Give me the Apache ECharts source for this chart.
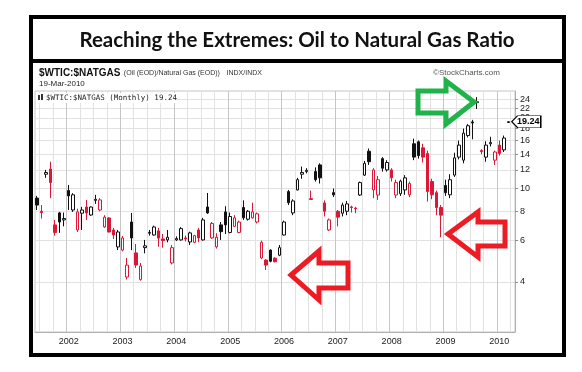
<!DOCTYPE html>
<html><head><meta charset="utf-8">
<script src="https://cdn.jsdelivr.net/npm/echarts@6/dist/echarts.min.js"></script>
<style>html,body{margin:0;padding:0;background:#fff}#c{width:582px;height:372px}</style>
</head><body><div id="c"></div>
<script>
// ---- data (monthly candles, Jun 2001 .. Mar 2010; category axis runs to Apr 2010) ----
const startYear = 2001;
const startMonth = 6;
const monthCount = 107;
const opens = [9.1,8.0,11.5,12.1,7.0,7.87,7.35,9.8,8.1,6.66,7.85,8.34,7.71,8.9,8.1,6.86,7.49,6.66,5.64,5.47,
  4.2,7.2,5.32,4.1,5.6,6.45,6.34,6.6,6.1,6.04,4.82,6.04,6.04,6.16,5.92,5.9,6.66,6.04,8.34,6.16,
  5.64,7.0,7.95,6.5,6.9,6.5,8.3,7.4,7.5,7.2,5.06,4.96,5.47,5.05,5.2,6.34,9.7,7.87,9.86,11.5,
  11.8,9.05,11.8,12.6,8.68,6.66,9.6,8.0,7.85,8.0,8.35,8.25,9.38,11.4,14.4,9.86,9.38,13.4,12.0,12.0,
  9.38,9.5,9.86,9.4,15.5,15.8,14.9,14.1,10.7,9.6,8.3,10.3,9.4,11.4,13.6,13.2,16.8,19.2,23.2,14.5,
  13.6,15.5,13.2,15.3,14.6,19.1];
const highs = [9.3,8.5,12.0,13.0,7.35,7.95,7.9,10.35,9.55,8.2,8.35,8.94,8.4,9.4,9.1,7.7,7.55,6.8,6.66,6.28,
  5.06,7.87,5.8,4.82,6.04,6.66,6.95,6.8,6.4,6.66,5.75,6.25,6.85,6.3,6.55,6.35,6.8,7.5,9.57,7.2,
  6.45,7.2,8.4,7.9,7.7,7.3,8.9,8.1,8.7,7.9,6.0,5.0,5.5,5.1,5.75,7.3,9.86,9.0,11.1,12.4,
  12.2,9.8,12.3,12.8,8.9,7.45,10.0,8.1,8.7,8.85,8.45,8.35,10.7,13.1,14.8,12.2,11.3,13.6,13.2,12.2,
  10.9,10.9,11.4,10.7,16.3,16.0,15.5,14.5,11.0,9.8,8.5,10.9,11.5,14.2,16.0,18.0,18.8,19.6,24.5,14.7,
  15.9,16.6,14.5,16.0,16.8,19.35];
const lows = [8.1,7.45,11.1,9.1,6.3,6.47,6.9,8.1,7.95,6.53,6.66,7.35,7.65,8.6,8.0,6.8,6.5,6.1,5.47,5.4,
  4.1,5.47,4.59,4.05,5.3,6.3,6.3,5.65,5.6,5.9,4.75,5.98,6.0,5.95,5.75,5.85,5.9,6.0,7.8,6.1,
  5.55,6.04,6.4,6.45,6.85,6.45,7.35,7.3,7.45,7.1,5.0,4.5,4.85,4.85,5.15,6.3,8.5,7.7,9.8,11.0,
  11.6,8.95,10.7,10.5,7.6,6.6,9.2,6.9,7.6,7.7,7.9,7.85,9.3,11.3,12.6,9.1,8.94,11.8,11.8,10.7,
  9.1,9.3,9.4,9.2,13.2,13.4,12.9,8.8,9.0,7.7,6.2,9.3,9.1,11.2,13.3,12.8,16.5,16.2,21.8,14.0,
  13.0,15.1,12.6,13.8,14.3,19.0];
const closes = [8.5,7.9,11.7,10.6,6.5,7.2,7.45,9.3,9.4,7.95,8.1,7.87,8.34,9.0,8.94,7.55,6.53,6.34,6.53,6.16,
  4.72,6.16,4.72,4.68,5.7,6.5,6.86,6.15,6.0,6.2,5.6,6.12,6.75,6.1,6.47,6.3,6.16,7.35,7.87,7.1,
  6.2,6.55,7.0,7.6,7.5,7.2,7.5,8.0,7.95,7.8,5.9,4.72,4.9,4.88,5.6,7.2,8.7,8.85,10.9,11.7,
  11.95,8.98,10.9,11.1,8.0,7.35,9.4,7.55,8.5,8.6,8.3,8.2,10.6,12.8,13.0,12.0,10.9,12.2,12.9,11.1,
  10.6,10.75,11.1,10.5,13.6,13.8,13.6,9.7,9.4,8.3,7.7,9.6,10.9,13.5,15.3,17.2,18.5,19.0,23.4,14.35,
  15.3,15.7,14.3,14.1,16.4,19.24];
const yTickValues = [4,6,8,10,12,14,16,18,20,22,24];
const lastValue = 19.24;

// ---- build ----
const categories = [];
for (let i = 0; i < monthCount; i++) {
  const k = startMonth - 1 + i;
  categories.push((startYear + Math.floor(k / 12)) + '-' + String(k % 12 + 1).padStart(2, '0'));
}
const RED = '#dc1838', BLACK = '#111';
const candles = opens.map((o, i) => {
  const c = closes[i];
  const up = i === 0 || c >= closes[i - 1];
  const col = up ? BLACK : RED;
  const hollow = c >= o;
  return {
    value: [o, c, lows[i], highs[i]],
    itemStyle: { color: hollow ? '#fff' : col, color0: hollow ? '#fff' : col, borderColor: col, borderColor0: col, borderWidth: 1 }
  };
});
const lastIdx = closes.length - 1;

const chart = echarts.init(document.getElementById('c'), null, { renderer: 'canvas' });
chart.setOption({
  animation: false,
  backgroundColor: '#fff',
  grid: { left: 35, right: 67, top: 91, bottom: 40, show: true, borderColor: '#c4c4c4', borderWidth: 1 },
  xAxis: [{
    type: 'category', data: categories, boundaryGap: true,
    axisLine: { show: true, lineStyle: { color: '#b0b0b0' } },
    axisTick: { show: false },
    axisLabel: { interval: (i, v) => v.slice(5) === '01', formatter: v => v.slice(0, 4), fontSize: 9, color: '#222', margin: 5, fontFamily: 'Liberation Sans' },
    splitLine: { show: true, interval: (i, v) => ['04', '07', '10'].indexOf(v.slice(5)) >= 0, lineStyle: { color: '#e2e2e2', width: 1 } }
  }, {
    type: 'category', data: categories, boundaryGap: true, position: 'bottom',
    axisLine: { show: false }, axisTick: { show: false }, axisLabel: { show: false },
    splitLine: { show: true, interval: (i, v) => v.slice(5) === '01', lineStyle: { color: '#c6c6c6', width: 1 } }
  }],
  yAxis: {
    type: 'log', logBase: 10, position: 'right', min: 2.45, max: 26,
    axisLine: { show: true, lineStyle: { color: '#b0b0b0' } },
    axisTick: { show: true, length: 3, customValues: yTickValues, lineStyle: { color: '#888' } },
    axisLabel: { customValues: yTickValues, fontSize: 9, color: '#222', margin: 5, fontFamily: 'Liberation Sans' },
    splitLine: { show: true, lineStyle: { color: '#e2e2e2' } }
  },
  series: [{
    type: 'candlestick', xAxisIndex: 0, yAxisIndex: 0, barWidth: 3, data: candles,
    markPoint: {
      symbol: 'path://M0,6L6,0L30,0L30,12L6,12Z', symbolSize: [29, 12], symbolOffset: [18, 0], silent: true,
      itemStyle: { color: '#fff', borderColor: '#000', borderWidth: 1 },
      label: { show: true, position: 'inside', formatter: String(lastValue), fontSize: 9, fontWeight: 'bold', color: '#000', offset: [2, 0], fontFamily: 'Liberation Sans' },
      data: [{ coord: [categories[lastIdx], lastValue] }]
    }
  }],
  graphic: [
    { type: 'rect', shape: { x: 31, y: 17, width: 533, height: 338 }, style: { fill: 'none', stroke: '#000', lineWidth: 4 }, z: 10 },
    { type: 'line', shape: { x1: 31, y1: 61, x2: 564, y2: 61 }, style: { stroke: '#000', lineWidth: 4 }, z: 10 },
    { type: 'text', x: 297, y: 40, style: { text: 'Reaching the Extremes: Oil to Natural Gas Ratio', font: 'bold 20.5px Lato', fill: '#111', align: 'center', verticalAlign: 'middle' }, z: 10 },
    { type: 'text', x: 39, y: 73, style: {
        text: '{a|$WTIC:$NATGAS} {b|(Oil (EOD)/Natural Gas (EOD))}  {b|INDX/INDX}',
        verticalAlign: 'middle',
        rich: { a: { font: 'bold 10px "Liberation Sans"', fill: '#111' }, b: { font: '7px "Liberation Sans"', fill: '#333' } } }, z: 10 },
    { type: 'text', x: 39, y: 84, style: { text: '19-Mar-2010', font: '8px "Liberation Sans"', fill: '#222', verticalAlign: 'middle' }, z: 10 },
    { type: 'text', x: 433, y: 73, style: { text: '\u00a9StockCharts.com', font: '8px "Liberation Sans"', fill: '#555', verticalAlign: 'middle' }, z: 10 },
    { type: 'rect', shape: { x: 36, y: 93, width: 140, height: 10 }, style: { fill: '#fff' }, z: 8 },
    { type: 'rect', shape: { x: 38, y: 95, width: 2, height: 5 }, style: { fill: '#333' }, z: 9 },
    { type: 'rect', shape: { x: 41, y: 94, width: 2, height: 6 }, style: { fill: '#333' }, z: 9 },
    { type: 'text', x: 46, y: 98, style: { text: '$WTIC:$NATGAS (Monthly) 19.24', font: '7.5px "DejaVu Sans Mono"', fill: '#222', verticalAlign: 'middle' }, z: 9 },
    { type: 'polygon', shape: { points: [[418, 91], [446, 91], [446, 81], [474, 102], [446, 124], [446, 113], [418, 113]] }, style: { fill: 'none', stroke: '#1fb34a', lineWidth: 5, lineJoin: 'miter' }, z: 12 },
    { type: 'polygon', shape: { points: [[291, 275], [319, 251], [319, 263], [348, 263], [348, 288], [319, 288], [319, 300]] }, style: { fill: 'none', stroke: '#ed1c24', lineWidth: 5, lineJoin: 'miter' }, z: 12 },
    { type: 'polygon', shape: { points: [[448, 234], [478, 212], [478, 222], [505, 222], [505, 246], [478, 246], [478, 257]] }, style: { fill: 'none', stroke: '#ed1c24', lineWidth: 5, lineJoin: 'miter' }, z: 12 }
  ]
});
</script></body></html>
